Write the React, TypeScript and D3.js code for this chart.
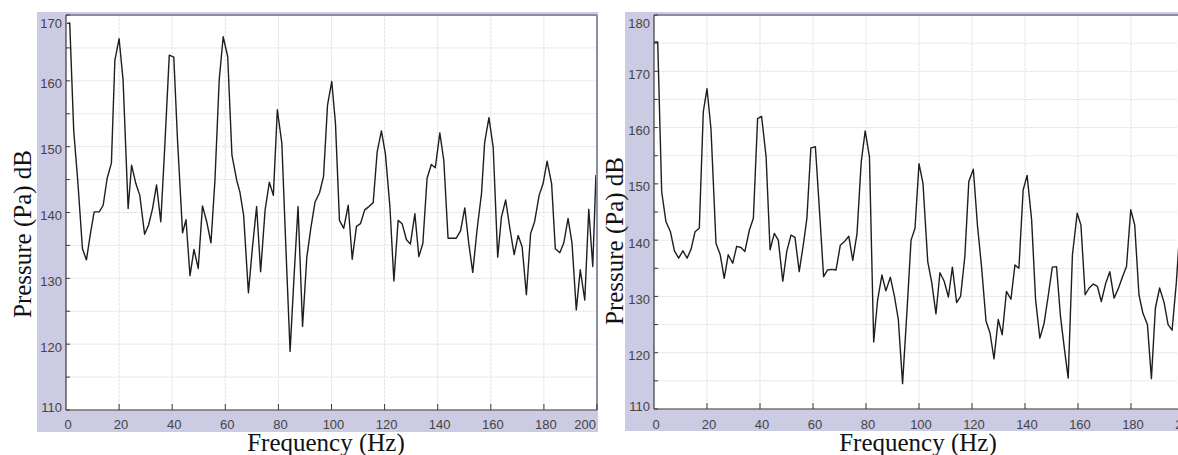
import React from "react";
import * as d3 from "d3";

// left spectrum (frequency in Hz, pressure in dB)
const leftFreq = [
  0.4, 1.4, 2.9, 4.5, 6.2, 7.7, 9.2, 10.6, 12.5, 14.0, 15.5, 17.1, 18.4, 20.0, 21.5, 23.4, 24.7, 26.3, 27.8, 29.6,
  31.1, 32.6, 34.1, 35.7, 37.2, 38.9, 40.6, 42.0, 43.9, 45.2, 46.7, 48.2, 49.8, 51.4, 53.0, 54.6, 56.1, 57.7, 59.2, 60.9,
  62.5, 64.3, 65.5, 66.9, 68.7, 70.3, 71.8, 73.3, 75.0, 76.6, 78.1, 79.6, 81.3, 82.9, 84.4, 85.9, 87.4, 89.1, 90.7, 92.2,
  93.8, 95.5, 97.0, 98.5, 100.1, 101.5, 103.0, 104.6, 106.3, 107.8, 109.4, 110.9, 112.5, 114.1, 115.7, 117.2, 118.8, 120.3, 122.0, 123.5,
  125.1, 126.6, 128.2, 129.7, 131.4, 132.9, 134.4, 136.0, 137.6, 139.1, 140.8, 142.3, 143.9, 145.4, 147.0, 148.6, 150.2, 151.7, 153.2, 154.8,
  156.5, 157.7, 159.3, 160.9, 162.6, 164.0, 165.6, 167.1, 168.8, 170.3, 171.8, 173.4, 175.0, 176.5, 178.2, 179.7, 181.2, 182.9, 184.3, 186.0,
  187.5, 189.1, 190.6, 192.2, 193.7, 195.4, 196.9, 198.4, 199.6,
];
const leftLevel = [
  168.7, 168.8, 152.5, 144.4, 134.5, 132.8, 136.8, 140.1, 140.1, 141.1, 145.2, 147.5, 163.1, 166.4, 160.1, 140.6, 147.2, 144.4, 142.6, 136.7,
  138.1, 140.6, 144.2, 138.6, 150.0, 163.9, 163.6, 151.0, 136.9, 138.9, 130.4, 134.4, 131.5, 141.0, 138.6, 135.4, 144.9, 160.1, 166.7, 163.7,
  148.7, 144.9, 143.1, 139.6, 127.8, 135.0, 140.9, 131.0, 140.4, 144.6, 142.6, 155.6, 150.5, 133.8, 118.9, 130.3, 140.9, 122.7, 133.2, 137.6,
  141.6, 143.0, 145.5, 156.3, 159.9, 153.5, 138.8, 137.6, 141.1, 132.9, 137.9, 138.3, 140.4, 140.9, 141.5, 149.2, 152.4, 148.9, 140.9, 129.6,
  138.8, 138.3, 135.9, 135.2, 139.8, 133.3, 135.3, 145.2, 147.3, 146.8, 152.1, 147.9, 136.1, 136.1, 136.1, 137.2, 140.7, 135.3, 130.9, 137.3,
  142.9, 150.7, 154.4, 149.9, 133.2, 139.3, 141.9, 137.8, 133.6, 136.5, 134.8, 127.5, 136.8, 138.6, 142.6, 144.4, 147.8, 144.4, 134.5, 133.9,
  135.4, 139.1, 135.3, 125.2, 131.3, 126.7, 140.5, 131.8, 145.7,
];

// right spectrum
const rightFreq = [
  0.1, 1.4, 2.9, 4.5, 6.2, 7.7, 9.3, 10.9, 12.5, 14.0, 15.5, 17.1, 18.6, 20.0, 21.5, 23.4, 25.0, 26.5, 28.0, 29.7,
  31.2, 32.8, 34.3, 36.0, 37.5, 39.1, 40.6, 42.3, 43.8, 45.4, 46.9, 48.6, 50.1, 51.7, 53.2, 54.8, 56.5, 57.7, 59.2, 60.9,
  62.4, 64.0, 65.5, 67.2, 68.7, 70.3, 71.8, 73.5, 75.0, 76.6, 78.2, 79.7, 81.3, 82.9, 84.4, 86.0, 87.5, 89.2, 90.7, 92.2,
  93.8, 95.5, 97.0, 98.5, 100.0, 101.5, 103.3, 104.8, 106.4, 107.9, 109.5, 111.1, 112.6, 114.2, 115.7, 117.3, 118.8, 120.5, 122.1, 123.6,
  125.3, 126.8, 128.3, 129.9, 131.4, 133.0, 134.7, 136.2, 137.7, 139.3, 140.8, 142.5, 144.0, 145.6, 147.2, 148.7, 150.3, 151.9, 153.4, 155.0,
  156.3, 157.9, 159.7, 161.1, 162.7, 164.2, 165.8, 167.3, 168.8, 170.5, 172.0, 173.6, 175.3, 176.8, 178.3, 179.9, 181.4, 183.0, 184.5, 186.2,
  187.7, 189.2, 190.8, 192.5, 194.0, 195.5, 197.1, 198.6,
];
const rightLevel = [
  175.2, 175.2, 148.6, 143.3, 141.5, 138.1, 136.8, 138.1, 136.8, 138.4, 141.5, 142.1, 162.8, 166.9, 159.8, 139.4, 137.4, 133.2, 137.4, 135.9,
  138.9, 138.7, 138.0, 141.8, 143.9, 161.6, 162.0, 154.8, 138.3, 141.2, 140.0, 132.7, 138.0, 140.9, 140.5, 134.4, 139.7, 143.9, 156.4, 156.6,
  145.6, 133.5, 134.7, 134.8, 134.7, 139.1, 139.7, 140.7, 136.4, 141.1, 153.9, 159.4, 154.8, 121.9, 129.4, 133.8, 131.0, 133.4, 130.1, 125.9,
  114.5, 127.7, 140.0, 142.1, 153.6, 150.1, 136.2, 132.5, 126.9, 134.2, 132.7, 129.9, 135.2, 128.9, 130.0, 137.1, 150.4, 152.6, 142.4, 135.3,
  125.6, 123.5, 118.9, 125.9, 123.2, 130.9, 129.5, 135.6, 135.0, 148.9, 151.5, 143.6, 129.4, 122.6, 125.2, 129.9, 135.2, 135.3, 126.4, 120.2,
  115.5, 137.4, 144.8, 142.7, 130.3, 131.5, 132.2, 131.8, 129.1, 132.4, 134.4, 129.7, 131.5, 133.5, 135.3, 145.4, 142.7, 130.3, 127.0, 125.0,
  115.4, 127.9, 131.5, 128.9, 125.0, 124.0, 132.4, 143.0,
];

const xTicks = [0, 20, 40, 60, 80, 100, 120, 140, 160, 180, 200];
const leftYTicks = [110, 120, 130, 140, 150, 160, 170];
const rightYTicks = [110, 120, 130, 140, 150, 160, 170, 180];

const tickFont = "'Liberation Sans', Arial, Helvetica, sans-serif";
const titleFont = "'Liberation Serif', 'Times New Roman', serif";

function Panel({ id, freq, level, yDomain, yTicks, bg, plot, xTitleX, yTitleX, yTitleY, lastLabelEnd }) {
  const x = d3.scaleLinear().domain([0, 200]).range([plot.left, plot.left + plot.w200]);
  const y = d3.scaleLinear().domain(yDomain).range([plot.bottom, plot.top]);
  const pts = freq.map((f, i) => [f, level[i]]);
  const line = d3.line().x(d => x(d[0])).y(d => y(d[1]));
  const minor = d3.range(yDomain[0], yDomain[1] + 0.1, 5);

  return (
    <g>
      <rect x={bg.x} y={bg.y} width={bg.w} height={bg.h} fill="#cbcbe3" />
      <rect x={plot.left} y={plot.top} width={plot.right - plot.left} height={plot.bottom - plot.top} fill="#fff" />
      <clipPath id={id}>
        <rect x={plot.left} y={plot.top} width={plot.right - plot.left} height={plot.bottom - plot.top} />
      </clipPath>

      {/* grid */}
      {minor.map(v => (
        <line key={"h" + v} x1={plot.left} x2={plot.right} y1={y(v)} y2={y(v)}
          stroke="#e2e2e2" strokeWidth={1} strokeDasharray="3,1" />
      ))}
      {xTicks.filter(t => t > 0).map(t => (
        <line key={"v" + t} x1={x(t)} x2={x(t)} y1={plot.top} y2={plot.bottom}
          stroke="#e2e2e2" strokeWidth={1} strokeDasharray="3,1" />
      ))}

      <path d={line(pts)} fill="none" stroke="#1e1e1e" strokeWidth={1.4}
        strokeLinejoin="round" clipPath={`url(#${id})`} />

      {/* frame */}
      <line x1={plot.left} x2={plot.right} y1={plot.top} y2={plot.top} stroke="#8c8ca4" strokeWidth={2} />
      {plot.right < 1178 && (
        <line x1={plot.right} x2={plot.right} y1={plot.top} y2={plot.bottom} stroke="#8c8ca4" strokeWidth={2} />
      )}
      <line x1={plot.left} x2={plot.left} y1={plot.top} y2={plot.bottom} stroke="#3a3a3a" strokeWidth={1.2} />
      <line x1={plot.left} x2={plot.right} y1={plot.bottom} y2={plot.bottom} stroke="#3a3a3a" strokeWidth={1.2} />

      {/* ticks */}
      {minor.map(v => (
        <line key={"yt" + v} x1={plot.left} x2={plot.left + 4} y1={y(v)} y2={y(v)} stroke="#3a3a3a" />
      ))}
      {xTicks.filter(t => t > 0).map(t => (
        <line key={"xt" + t} x1={x(t)} x2={x(t)} y1={plot.bottom} y2={plot.bottom - 6} stroke="#3a3a3a" />
      ))}

      {yTicks.map(t => (
        <text key={"yl" + t} x={plot.left - 4}
          y={Math.min(Math.max(y(t) + 4, plot.top + 10), plot.bottom - 1)}
          dominantBaseline="middle" textAnchor="end" fontFamily={tickFont} fontSize={13} fill="#444">
          {t}
        </text>
      ))}
      {xTicks.map(t => {
        const last = t === 200 && lastLabelEnd;
        return (
          <text key={"xl" + t} x={last ? plot.right - 1 : x(t) + 2} y={429}
            textAnchor={last ? "end" : "middle"} fontFamily={tickFont} fontSize={13} fill="#444">
            {t}
          </text>
        );
      })}

      <text x={xTitleX} y={451} textAnchor="middle" fontFamily={titleFont} fontSize={25} fill="#111">
        Frequency (Hz)
      </text>
      <text transform={`translate(${yTitleX},${yTitleY}) rotate(-90)`} textAnchor="middle"
        fontFamily={titleFont} fontSize={25} fill="#111">
        Pressure (Pa) dB
      </text>
    </g>
  );
}

export default function App() {
  return (
    <svg width={1178} height={455} style={{ position: "absolute", left: 0, top: 0, display: "block", background: "#fff" }}>
      <Panel
        id="clipLeft"
        freq={leftFreq}
        level={leftLevel}
        yDomain={[110, 170]}
        yTicks={leftYTicks}
        bg={{ x: 37, y: 12, w: 561, h: 420 }}
        plot={{ left: 66, right: 597, top: 15, bottom: 410, w200: 531 }}
        xTitleX={326}
        yTitleX={31}
        yTitleY={234}
        lastLabelEnd={true}
      />
      <Panel
        id="clipRight"
        freq={rightFreq}
        level={rightLevel}
        yDomain={[110, 180]}
        yTicks={rightYTicks}
        bg={{ x: 625, y: 12, w: 570, h: 419 }}
        plot={{ left: 654, right: 1190, top: 15, bottom: 409, w200: 530 }}
        xTitleX={918}
        yTitleX={623}
        yTitleY={241}
        lastLabelEnd={false}
      />
    </svg>
  );
}
